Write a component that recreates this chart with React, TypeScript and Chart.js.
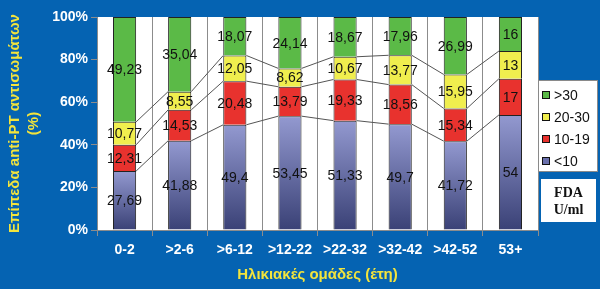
import React, { useEffect, useRef } from "react";
import { Chart, registerables } from "chart.js";

Chart.register(...registerables);

const categories = ["0-2", ">2-6", ">6-12", ">12-22", ">22-32", ">32-42", ">42-52", "53+"];
const seriesNames = ["<10", "10-19", "20-30", ">30"];
const lt10 = [27.69, 41.88, 49.4, 53.45, 51.33, 49.7, 41.72, 54];
const v10to19 = [12.31, 14.53, 20.48, 13.79, 19.33, 18.56, 15.34, 17];
const v20to30 = [10.77, 8.55, 12.05, 8.62, 10.67, 13.77, 15.95, 13];
const gt30 = [49.23, 35.04, 18.07, 24.14, 18.67, 17.96, 26.99, 16];
const yTicks = [0, 20, 40, 60, 80, 100];
const yTitle = ["Επίπεδα anti-PT αντισωμάτων", "(%)"];
const xTitle = "Ηλικιακές ομάδες (έτη)";
const unitNote = ["FDA", "U/ml"];

const BG = "#0563B2";
const YELLOW_TXT = "#F3E43C";
const GREEN = "#5BBA47";
const YEL = "#F0EE4E";
const RED = "#E8322E";
const BLUE_TOP = "#9399D0";
const BLUE_BOT = "#3A4176";
const BLUE_MID = "#6A70AC";
const SANS = "Arial, 'Liberation Sans', sans-serif";
const SERIF = "'Times New Roman', 'Liberation Serif', serif";

const fmt = (v: number) => String(v).replace(".", ",");

export default function App() {
  const ref = useRef<HTMLCanvasElement | null>(null);

  useEffect(() => {
    document.body.style.margin = "0";
    const canvas = ref.current;
    if (!canvas) return;

    const blueGradient = (c: any) => {
      const chart = c.chart;
      const ys = chart.scales && chart.scales.y;
      if (!chart.chartArea || !ys || c.type !== "data") return BLUE_MID;
      const top = ys.getPixelForValue(c.parsed ? c.parsed.y : lt10[c.dataIndex]);
      const bot = ys.getPixelForValue(0);
      if (!isFinite(top) || !isFinite(bot) || top === bot) return BLUE_MID;
      const g = chart.ctx.createLinearGradient(0, top, 0, bot);
      g.addColorStop(0, BLUE_TOP);
      g.addColorStop(1, BLUE_BOT);
      return g;
    };

    const bgPlugin = {
      id: "bgPlugin",
      beforeDraw(chart: any) {
        const { ctx, chartArea } = chart;
        ctx.save();
        ctx.fillStyle = BG;
        ctx.fillRect(0, 0, chart.width, chart.height);
        ctx.fillStyle = "#ffffff";
        ctx.fillRect(chartArea.left, chartArea.top, chartArea.right - chartArea.left, chartArea.bottom - chartArea.top);
        ctx.restore();
      },
    };

    const seriesLines = {
      id: "seriesLines",
      afterDatasetsDraw(chart: any) {
        const { ctx } = chart;
        ctx.save();
        ctx.strokeStyle = "#555555";
        ctx.lineWidth = 1;
        for (let d = 0; d < chart.data.datasets.length - 1; d++) {
          const meta = chart.getDatasetMeta(d);
          for (let i = 0; i < meta.data.length - 1; i++) {
            const a = meta.data[i].getProps(["x", "y", "width"], true);
            const b = meta.data[i + 1].getProps(["x", "y", "width"], true);
            ctx.beginPath();
            ctx.moveTo(a.x + a.width / 2, a.y);
            ctx.lineTo(b.x - b.width / 2, b.y);
            ctx.stroke();
          }
        }
        ctx.restore();
      },
    };

    const valueLabels = {
      id: "valueLabels",
      afterDatasetsDraw(chart: any) {
        const { ctx } = chart;
        ctx.save();
        ctx.font = `14px ${SANS}`;
        ctx.fillStyle = "#111111";
        ctx.textAlign = "center";
        ctx.textBaseline = "middle";
        chart.data.datasets.forEach((ds: any, d: number) => {
          const meta = chart.getDatasetMeta(d);
          meta.data.forEach((el: any, i: number) => {
            const p = el.getProps(["x", "y", "base"], true);
            ctx.fillText(fmt(ds.data[i]), p.x, (p.y + p.base) / 2 + 1);
          });
        });
        ctx.restore();
      },
    };

    const sideBoxes = {
      id: "sideBoxes",
      afterDraw(chart: any) {
        const { ctx, chartArea } = chart;
        ctx.save();
        const lx = chartArea.right;
        const ly = 80;
        const lw = 60;
        const lh = 92;
        ctx.fillStyle = "#ffffff";
        ctx.fillRect(lx, ly, lw, lh);
        ctx.strokeStyle = "#8a8a8a";
        ctx.lineWidth = 1;
        ctx.strokeRect(lx + 0.5, ly + 0.5, lw - 1, lh - 1);
        const items = chart.data.datasets.slice().reverse();
        ctx.font = `14px ${SANS}`;
        ctx.textBaseline = "middle";
        ctx.textAlign = "left";
        items.forEach((ds: any, k: number) => {
          const cy = 95 + k * 22;
          ctx.fillStyle = ds.legendColor;
          ctx.fillRect(lx + 4, cy - 4, 8, 8);
          ctx.strokeStyle = "#111111";
          ctx.strokeRect(lx + 4.5, cy - 3.5, 7, 7);
          ctx.fillStyle = "#111111";
          ctx.fillText(ds.label, lx + 16, cy + 1);
        });
        const fx = chartArea.right + 3;
        const fy = 179;
        const fw = 55;
        const fh = 43;
        ctx.fillStyle = "#ffffff";
        ctx.fillRect(fx, fy, fw, fh);
        ctx.fillStyle = "#111111";
        ctx.font = `bold 14px ${SERIF}`;
        ctx.textAlign = "center";
        ctx.fillText(unitNote[0], fx + fw / 2, 193);
        ctx.fillText(unitNote[1], fx + fw / 2, 210);
        ctx.restore();
      },
    };

    const chart = new Chart(canvas, {
      type: "bar",
      data: {
        labels: categories,
        datasets: [
          { label: seriesNames[0], data: lt10, backgroundColor: blueGradient, legendColor: BLUE_MID } as any,
          { label: seriesNames[1], data: v10to19, backgroundColor: RED, legendColor: RED } as any,
          { label: seriesNames[2], data: v20to30, backgroundColor: YEL, legendColor: YEL } as any,
          { label: seriesNames[3], data: gt30, backgroundColor: GREEN, legendColor: GREEN } as any,
        ].map((d: any) => ({
          ...d,
          borderColor: "#222222",
          borderWidth: 1,
          barPercentage: 0.42,
          categoryPercentage: 1,
        })),
      },
      options: {
        animation: false,
        responsive: false,
        devicePixelRatio: 1,
        layout: { padding: { left: 0, right: 62, top: 17, bottom: 0 } },
        plugins: {
          legend: { display: false },
          tooltip: { enabled: false },
        },
        scales: {
          x: {
            stacked: true,
            afterFit: (s: any) => {
              s.height = 59;
            },
            grid: {
              display: true,
              offset: true,
              color: "#8c8c8c",
              lineWidth: 1,
              drawOnChartArea: true,
              drawTicks: true,
              tickLength: 6,
            },
            border: { color: "#8c8c8c", width: 1 },
            ticks: {
              color: "#ffffff",
              font: { family: SANS, size: 14, weight: "bold" },
              padding: 6,
              maxRotation: 0,
              autoSkip: false,
            },
            title: {
              display: true,
              text: xTitle,
              color: YELLOW_TXT,
              font: { family: SANS, size: 15, weight: "bold" },
              padding: { top: 0, bottom: 5 },
            },
          },
          y: {
            stacked: true,
            min: 0,
            max: 100,
            afterFit: (s: any) => {
              s.width = 97;
            },
            afterBuildTicks: (s: any) => {
              s.ticks = yTicks.map((v) => ({ value: v }));
            },
            grid: {
              display: true,
              drawOnChartArea: false,
              drawTicks: true,
              tickLength: 6,
              color: "#8c8c8c",
            },
            border: { color: "#8c8c8c", width: 1 },
            ticks: {
              color: "#ffffff",
              font: { family: SANS, size: 14, weight: "bold" },
              padding: 3,
              callback: (v: any) => `${v}%`,
            },
            title: {
              display: true,
              text: yTitle,
              color: YELLOW_TXT,
              font: { family: SANS, size: 15, weight: "bold", lineHeight: 1.3 },
              padding: { top: 5, bottom: 0 },
            },
          },
        },
      },
      plugins: [bgPlugin, seriesLines, valueLabels, sideBoxes],
    } as any);

    return () => {
      chart.destroy();
    };
  }, []);

  return (
    <div style={{ position: "absolute", left: 0, top: 0, width: 600, height: 289, background: BG }}>
      <canvas ref={ref} width={600} height={289} style={{ display: "block", width: 600, height: 289 }} />
    </div>
  );
}
